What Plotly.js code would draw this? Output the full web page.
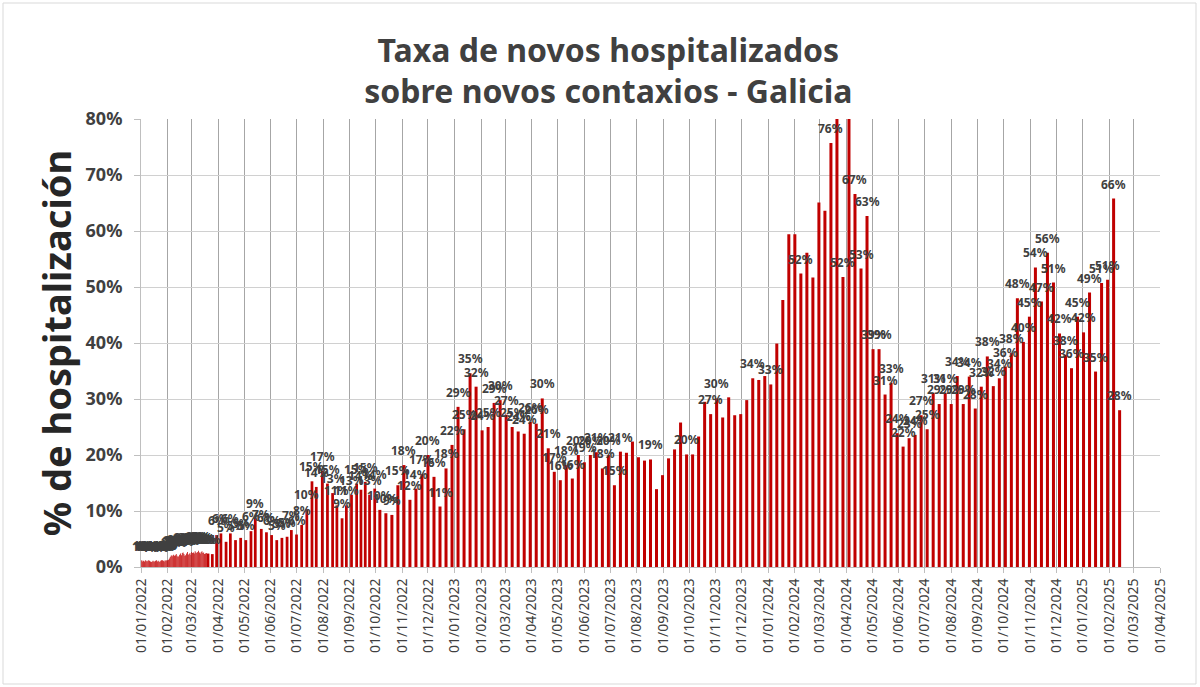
<!DOCTYPE html>
<html><head><meta charset="utf-8">
<script src="https://cdn.plot.ly/plotly-3.0.1.min.js"></script>
<style>html,body{margin:0;padding:0;background:#fff}#chart{width:1200px;height:687px}</style>
</head><body><div id="chart"></div>
<script>
// ---- DATA (values in %) ----
const dailyDates = [
'2022-01-01','2022-01-02','2022-01-03','2022-01-04','2022-01-05','2022-01-06','2022-01-07','2022-01-08','2022-01-09','2022-01-10',
'2022-01-11','2022-01-12','2022-01-13','2022-01-14','2022-01-15','2022-01-16','2022-01-17','2022-01-18','2022-01-19','2022-01-20',
'2022-01-21','2022-01-22','2022-01-23','2022-01-24','2022-01-25','2022-01-26','2022-01-27','2022-01-28','2022-01-29','2022-01-30','2022-01-31',
'2022-02-01','2022-02-02','2022-02-03','2022-02-04','2022-02-05','2022-02-06','2022-02-07','2022-02-08','2022-02-09','2022-02-10',
'2022-02-11','2022-02-12','2022-02-13','2022-02-14','2022-02-15','2022-02-16','2022-02-17','2022-02-18','2022-02-19','2022-02-20',
'2022-02-21','2022-02-22','2022-02-23','2022-02-24','2022-02-25','2022-02-26','2022-02-27','2022-02-28',
'2022-03-01','2022-03-02','2022-03-03','2022-03-04','2022-03-05','2022-03-06','2022-03-07','2022-03-08','2022-03-09','2022-03-10',
'2022-03-11','2022-03-12','2022-03-13','2022-03-14','2022-03-15','2022-03-16','2022-03-17','2022-03-18'];
const dailyValues = [
1.1,1.2,1.0,1.1,1.0,1.2,1.1,1.0,1.1,1.2,1.1,1.0,0.9,1.0,1.1,1.0,1.0,1.1,1.2,1.0,1.1,1.0,0.9,1.1,1.2,1.2,1.1,1.0,1.2,1.1,1.2,
1.2,1.3,1.5,1.8,2.0,2.1,1.9,2.2,2.0,2.1,2.3,2.0,1.8,1.9,2.2,2.4,2.1,2.5,2.6,2.3,2.0,2.1,2.4,2.7,2.2,2.3,2.5,2.2,
2.7,2.5,2.6,2.4,2.8,2.6,2.5,2.7,2.9,2.6,2.4,2.7,2.8,2.5,2.6,2.3,2.4,2.5];

const midDates = ['2022-03-20','2022-03-25','2022-03-30','2022-04-04','2022-04-10','2022-04-15','2022-04-21','2022-04-27',
'2022-05-03','2022-05-09','2022-05-14','2022-05-21','2022-05-27','2022-06-02','2022-06-08','2022-06-14','2022-06-20','2022-06-25',
'2022-07-01','2022-07-07','2022-07-13','2022-07-19','2022-07-24','2022-07-31','2022-08-06','2022-08-12','2022-08-17','2022-08-23',
'2022-08-28','2022-09-03','2022-09-09','2022-09-14','2022-09-19','2022-09-24','2022-09-30'];
const midValues = [2.4,2.3,5.7,6.0,4.5,6.0,4.8,5.2,4.8,6.4,8.7,6.8,6.2,5.7,4.8,5.2,5.4,6.6,5.8,7.5,10.3,15.3,14.3,17.2,14.9,13.2,11.0,8.7,
11.0,12.9,14.9,13.8,15.2,12.9,14.0];

const weeklyDates = [
'2022-10-06','2022-10-13','2022-10-20','2022-10-27','2022-11-03','2022-11-10','2022-11-17','2022-11-24','2022-12-01','2022-12-08','2022-12-15','2022-12-22','2022-12-29',
'2023-01-05','2023-01-12','2023-01-19','2023-01-26','2023-02-02','2023-02-09','2023-02-16','2023-02-23','2023-03-02','2023-03-09','2023-03-16','2023-03-23','2023-03-30',
'2023-04-06','2023-04-13','2023-04-20','2023-04-27','2023-05-04','2023-05-11','2023-05-18','2023-05-25','2023-06-01','2023-06-08','2023-06-15','2023-06-22','2023-06-29',
'2023-07-06','2023-07-13','2023-07-20','2023-07-27','2023-08-03','2023-08-10','2023-08-17','2023-08-24','2023-08-31','2023-09-07','2023-09-14','2023-09-21','2023-09-28',
'2023-10-05','2023-10-12','2023-10-19','2023-10-26','2023-11-02','2023-11-09','2023-11-16','2023-11-23','2023-11-30','2023-12-07','2023-12-14','2023-12-21','2023-12-28',
'2024-01-04','2024-01-11','2024-01-18','2024-01-25','2024-02-01','2024-02-08','2024-02-15','2024-02-22','2024-02-29','2024-03-07','2024-03-14','2024-03-21','2024-03-28',
'2024-04-04','2024-04-11','2024-04-18','2024-04-25','2024-05-02','2024-05-09','2024-05-16','2024-05-23','2024-05-30','2024-06-06','2024-06-13','2024-06-20','2024-06-27',
'2024-07-04','2024-07-11','2024-07-18','2024-07-25','2024-08-01','2024-08-08','2024-08-15','2024-08-22','2024-08-29','2024-09-05','2024-09-12','2024-09-19','2024-09-26',
'2024-10-03','2024-10-10','2024-10-17','2024-10-24','2024-10-31','2024-11-07','2024-11-14','2024-11-21','2024-11-28','2024-12-05','2024-12-12','2024-12-19','2024-12-26',
'2025-01-02','2025-01-09','2025-01-16','2025-01-23','2025-01-30','2025-02-06','2025-02-13'];
const weeklyValues = [
10.2,9.6,9.3,14.6,18.2,12.0,14.0,16.6,20.0,16.1,10.8,17.6,21.8,
28.6,24.6,34.6,32.2,24.4,25.0,29.3,29.8,27.2,25.0,24.2,23.8,25.9,
25.6,30.1,21.2,17.0,15.5,18.2,15.8,20.0,18.7,20.0,20.5,17.6,20.0,
14.6,20.6,20.4,22.4,19.6,19.0,19.2,13.9,16.4,19.4,21.0,25.8,20.1,
20.1,23.3,29.5,27.3,30.1,26.7,30.3,27.1,27.3,29.8,33.7,33.4,34.1,
32.6,39.9,47.7,59.4,59.4,52.4,56.1,51.7,65.1,63.6,75.7,86.0,51.8,
84.0,66.6,53.3,62.7,38.9,38.9,30.8,32.9,23.9,21.5,23.0,23.6,27.1,
24.6,31.1,29.1,31.1,29.1,34.1,29.1,34.0,28.3,32.2,37.6,32.3,33.7,
35.8,38.2,48.0,40.2,44.7,53.5,47.4,56.1,50.8,41.7,37.9,35.5,44.7,
41.9,49.0,34.9,50.7,51.3,65.8,28.0];
// 1 = data label shown on that bar in the original chart
const weeklyLabelShown = [
1,1,1,1,1,1,1,1,1,1,1,1,1,
1,1,1,1,1,1,1,1,1,1,1,1,1,
1,1,1,1,1,1,1,1,1,1,1,1,1,
1,1,0,0,0,0,1,0,0,0,0,0,1,
0,0,0,1,1,0,0,0,0,0,1,0,0,
1,0,0,0,0,1,0,0,0,0,1,0,1,
0,1,1,1,1,1,1,1,1,1,1,1,1,
1,1,1,1,1,1,1,1,1,1,1,1,1,
1,1,1,1,1,1,1,1,1,1,1,1,1,
1,1,1,1,1,1,1];
const yTicks = [0,10,20,30,40,50,60,70,80];

// ---- CHART ----
const DAY = 86400000;
const RED = '#C00000';
const FONT = 'Noto Sans';
function barTrace(x, y, wDays){
  return {type:'bar', x:x, y:y, width:wDays*DAY, marker:{color:RED, line:{width:0}},
          hoverinfo:'skip', showlegend:false};
}
const traces = [barTrace(dailyDates, dailyValues, 0.9), barTrace(midDates, midValues, 3.2), barTrace(weeklyDates, weeklyValues, 3.5)];

const annotations = [];
function addLabels(x, y, shown){
  for (let i=0;i<x.length;i++){
    if (shown && !shown[i]) continue;
    if (y[i] > 80) continue;
    annotations.push({x:x[i], y:y[i], xref:'x', yref:'y', text:'<b>'+Math.round(y[i])+'%</b>',
      showarrow:false, yanchor:'bottom', xanchor:'center', yshift:4,
      font:{family:FONT, size:12, color:'#404040'}});
  }
}
addLabels(dailyDates, dailyValues, null);
addLabels(midDates, midValues, null);
addLabels(weeklyDates, weeklyValues, weeklyLabelShown);

const layout = {
  width:1200, height:687, paper_bgcolor:'#fff', plot_bgcolor:'#fff',
  margin:{l:141, r:40, t:119, b:120},
  barmode:'overlay',
  font:{family:FONT, color:'#404040'},
  title:{text:'<b>Taxa de novos hospitalizados<br>sobre novos contaxios - Galicia</b>',
    font:{family:FONT, size:32, color:'#404040'}, xref:'container', x:0.507, xanchor:'center',
    yref:'container', y:0.91, yanchor:'top'},
  xaxis:{type:'date', range:['2022-01-01','2025-04-01'], tick0:'2022-01-01', dtick:'M1',
    tickformat:'%d/%m/%Y', tickangle:-90, tickfont:{family:FONT, size:14, color:'#404040'},
    showgrid:true, gridcolor:'#a6a6a6', gridwidth:1, ticks:'outside', ticklen:5, tickcolor:'#bfbfbf',
    showline:true, linecolor:'#bfbfbf', zeroline:false, fixedrange:true},
  yaxis:{range:[0,80], tickvals:yTicks, ticktext:yTicks.map(v=>'<b>'+v+'%</b>'),
    tickfont:{family:FONT, size:18, color:'#404040'}, ticklabelstandoff:8,
    showgrid:true, gridcolor:'#d0d0d0', ticks:'outside', ticklen:6, tickcolor:'#bfbfbf',
    showline:true, linecolor:'#bfbfbf', zeroline:false, fixedrange:true,
    title:{text:'<b>% de hospitalización</b>', font:{family:FONT, size:38, color:'#262626'}, standoff:2}},
  annotations:annotations,
  shapes:[{type:'rect', xref:'paper', yref:'paper', x0:-138/1019, x1:1055/1019, y0:-117/448, y1:564/448,
    line:{color:'#d9d9d9', width:1}, layer:'below'}]
};
Plotly.newPlot('chart', traces, layout, {displayModeBar:false, staticPlot:true});
</script></body></html>
